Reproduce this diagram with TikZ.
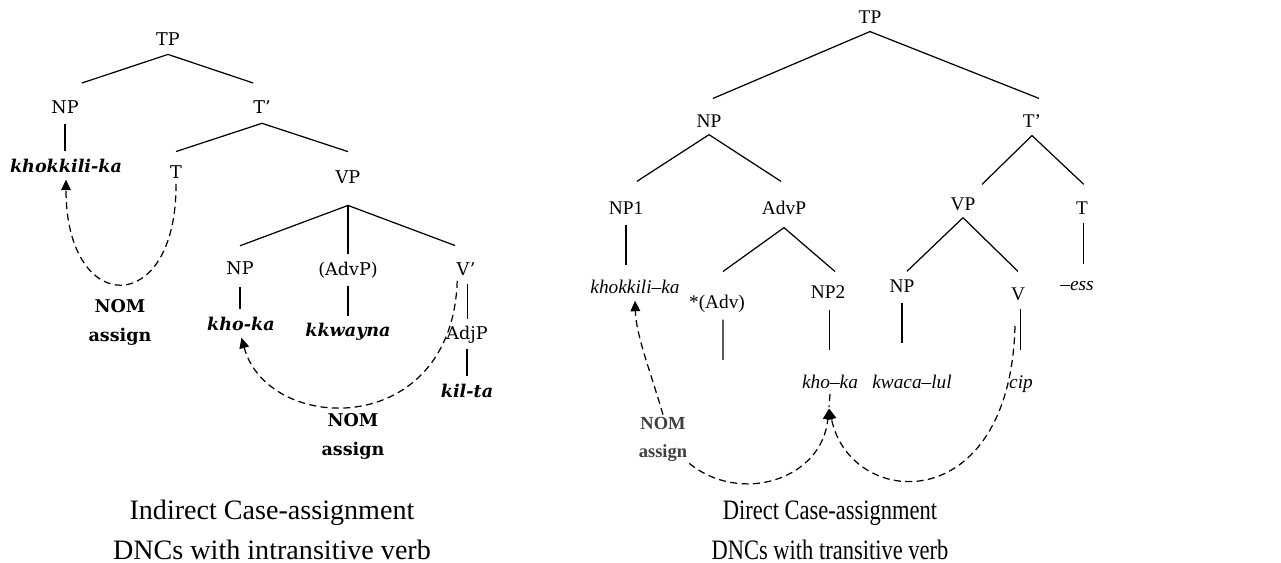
\documentclass[tikz,border=0pt]{standalone}
\usepackage{fontspec}
\setmainfont{Liberation Serif}
\newfontfamily\treefont{DejaVu Serif}
\usetikzlibrary{arrows.meta}

\begin{document}
\begin{tikzpicture}[x=0.02cm, y=-0.02cm,
    lab/.style={font=\treefont\fontsize{10}{12}\selectfont, inner sep=2pt, text height=1.5ex, text depth=.25ex},
    lword/.style={font=\treefont\fontsize{10}{12}\selectfont\bfseries\itshape, inner sep=2pt, text height=1.5ex, text depth=.25ex},
    rlab/.style={font=\fontsize{11}{13}\selectfont, inner sep=2pt, text height=1.5ex, text depth=.25ex},
    rword/.style={font=\fontsize{11}{13}\selectfont\itshape, inner sep=2pt, text height=1.5ex, text depth=.25ex},
    nomlab/.style={font=\treefont\fontsize{10}{16.5}\selectfont\bfseries, align=center, inner sep=1pt},
    rnomlab/.style={font=\fontsize{10.5}{16}\selectfont\bfseries, text=black!75, align=center, inner sep=1pt},
    caption/.style={font=\fontsize{16}{22.7}\selectfont, align=center},
    branch/.style={line width=0.7pt},
    stem/.style={line width=0.7pt, shorten <=3pt, shorten >=3pt},
    dashline/.style={line width=0.7pt, dash pattern=on 4pt off 2.5pt},
    assign/.style={dashline, -{Triangle[length=6pt,width=5.5pt]}, shorten >=1pt}]
    \useasboundingbox (0,0) rectangle (1281,563);

    % indirect case-assignment
    \node[lab] (ltp) at (168,40) {TP};
    \node[lab] (lnp) at (65,108) {NP};
    \node[lab] (ltbar) at (262,108) {T’};
    \node[lword] (lsubj) at (66,167) {khokkili-ka};
    \node[lab] (lt) at (176,173) {T};
    \node[lab] (lvp) at (348,178) {VP};
    \node[lab] (lnpobj) at (240,269) {NP};
    \node[lab] (ladvp) at (348,270) {(AdvP)};
    \node[lab] (lvbar) at (466,270) {V’};
    \node[lword] (lkho) at (241,325) {kho-ka};
    \node[lword] (lkkw) at (348,331) {kkwayna};
    \node[lab] (ladjp) at (467,334) {AdjP};
    \node[lword] (lkil) at (467,392) {kil-ta};
    \node[nomlab] (lnomA) at (120,322) {NOM\\assign};
    \node[nomlab] (lnomB) at (353,436) {NOM\\assign};

    \draw[branch] ([yshift=-2pt]ltp.south) -- ([xshift=9.6pt,yshift=8pt]lnp.north);
    \draw[branch] ([yshift=-2pt]ltp.south) -- ([xshift=-5pt,yshift=8pt]ltbar.north);
    \draw[branch] ([yshift=-2.5pt]ltbar.south) -- ([yshift=6pt]lt.north);
    \draw[branch] ([yshift=-2.5pt]ltbar.south) -- ([yshift=8.8pt]lvp.north);
    \draw[branch] ([yshift=-9.4pt]lvp.south) -- ([yshift=7pt]lnpobj.north);
    \draw[branch] ([yshift=-9.4pt]lvp.south) -- ([yshift=3pt]ladvp.north);
    \draw[branch] ([yshift=-9.4pt]lvp.south) -- ([xshift=-6.2pt,yshift=7.7pt]lvbar.north);
    \draw[stem] (lnp.south) -- (lnp.south |- lsubj.north);
    \draw[stem, shorten <=4.3pt] (lnpobj.south) -- (lnpobj.south |- lkho.north);
    \draw[stem, shorten >=2.5pt] (ladvp.south) -- (ladvp.south |- lkkw.north);
    \draw[stem, shorten <=2pt, shorten >=2.5pt] ([xshift=1pt]lvbar.south) -- ([xshift=1pt]lvbar.south |- ladjp.north);
    \draw[stem, shorten <=2.5pt] (ladjp.south) -- (ladjp.south |- lkil.north);

    \draw[assign] (lt.south) .. controls (177,318) and (66,318) .. (lsubj.south);
    \draw[assign] ([xshift=-5pt]lvbar.south) .. controls (452,440) and (268,435) .. (lkho.south);

    \node[caption] (lcap) at (272,530) {Indirect Case-assignment\\DNCs with intransitive verb};

    % direct case-assignment
    \node[rlab] (rtp) at (870,18) {TP};
    \node[rlab] (rnp) at (709,122) {NP};
    \node[rlab] (rtbar) at (1032,122) {T’};
    \node[rlab] (rnpone) at (626,209) {NP1};
    \node[rlab] (radvp) at (784,209) {AdvP};
    \node[rlab] (rvp) at (963,205) {VP};
    \node[rlab] (rt) at (1082,209) {T};
    \node[rword] (rsubj) at (635,288) {khokkili\textendash ka};
    \node[rlab] (radv) at (717,303) {*(Adv)};
    \node[rlab] (rnptwo) at (828,293) {NP2};
    \node[rlab] (rnpobj) at (902,287) {NP};
    \node[rlab] (rv) at (1018,295) {V};
    \node[rword] (ress) at (1077,285) {\textendash ess};
    \node[rword] (rkho) at (830,383) {kho\textendash ka};
    \node[rword] (rkwaca) at (912,383) {kwaca\textendash lul};
    \node[rword] (rcip) at (1021,383) {cip};
    \node[rnomlab] (rnom) at (663,439) {NOM\\assign};
    \coordinate (radvend) at (723,360);
    \coordinate (rmeet) at (829,407);

    \draw[branch] ([yshift=-1.5pt]rtp.south) -- ([xshift=2.3pt,yshift=7.2pt]rnp.north);
    \draw[branch] ([yshift=-1.5pt]rtp.south) -- ([xshift=4pt,yshift=7.2pt]rtbar.north);
    \draw[branch] ([yshift=-1pt]rnp.south) -- ([xshift=6.2pt,yshift=9.5pt]rnpone.north);
    \draw[branch] ([yshift=-1pt]rnp.south) -- ([xshift=-1.7pt,yshift=9.5pt]radvp.north);
    \draw[branch] ([yshift=-1.5pt]rtbar.south) -- ([xshift=10.8pt,yshift=5.5pt]rvp.north);
    \draw[branch] ([yshift=-1.5pt]rtbar.south) -- ([xshift=1pt,yshift=7.8pt]rt.north);
    \draw[branch] ([yshift=-4.4pt]radvp.south) -- ([xshift=3.4pt,yshift=11.7pt]radv.north);
    \draw[branch] ([yshift=-4.4pt]radvp.south) -- ([xshift=4pt,yshift=6pt]rnptwo.north);
    \draw[branch] ([yshift=-1pt]rvp.south) -- ([xshift=2.8pt,yshift=2.7pt]rnpobj.north);
    \draw[branch] ([yshift=-1pt]rvp.south) -- ([yshift=7.2pt]rv.north);
    \draw[stem, shorten <=2.7pt, shorten >=6.6pt] (rnpone.south) -- (rnpone.south |- rsubj.north);
    \draw[stem, shorten <=3.2pt, shorten >=0pt] ([xshift=3.4pt]radv.south) -- (radvend);
    \draw[stem, shorten <=3.2pt, shorten >=12.3pt] ([xshift=1pt]rnptwo.south) -- ([xshift=1pt]rnptwo.south |- rkho.north);
    \draw[stem, shorten <=2.7pt, shorten >=16.3pt] (rnpobj.south) -- (rnpobj.south |- rkwaca.north);
    \draw[stem, shorten <=2pt, shorten >=12.3pt] ([xshift=1.2pt]rv.south) -- ([xshift=1.2pt]rv.south |- rcip.north);
    \draw[stem, shorten <=2pt, shorten >=5.5pt] ([xshift=1pt]rt.south) -- ([xshift=1pt]rt.south |- ress.north);

    \draw[assign] (rnom.north) .. controls (650,370) and (636,335) .. (rsubj.south);
    \draw[dashline] (rkho.south) -- (rmeet);
    \draw[assign] (rnom.south east) .. controls (740,505) and (822,480) .. (rmeet);
    \draw[assign] ([shift={(-3,20)}]rv.south) .. controls (1010,520) and (850,510) .. (rmeet);

    \node[caption, xscale=0.8, transform shape] (rcap) at (830,530) {Direct Case-assignment\\DNCs with transitive verb};
\end{tikzpicture}
\end{document}
